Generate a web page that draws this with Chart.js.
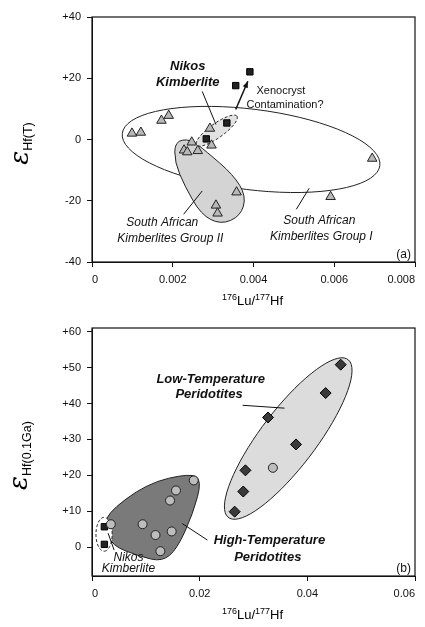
<!DOCTYPE html>
<html><head><meta charset="utf-8">
<script src="https://cdn.jsdelivr.net/npm/chart.js@4/dist/chart.umd.min.js"></script>
<style>
body{margin:0;background:#fff;width:425px;height:627px;position:relative;overflow:hidden;font-family:Arial,"Liberation Sans",sans-serif}
.cv{position:absolute;left:0;width:425px;height:310px}
.yt{position:absolute;transform:rotate(-90deg);transform-origin:center;font-size:15px;white-space:nowrap}
.yt b{font-family:"DejaVu Serif",serif;font-size:26px;font-weight:normal;font-style:italic}
.xt{position:absolute;text-align:center;font-size:13px;left:80px;width:345px}
</style></head><body>
<div class="cv" style="top:0"><canvas id="ca"></canvas></div>
<div class="cv" style="top:314px"><canvas id="cb"></canvas></div>
<div class="yt" style="left:-2px;top:128px"><b>&epsilon;</b><sub>Hf(T)</sub></div>
<div class="yt" style="left:-16px;top:440px"><b>&epsilon;</b><sub>Hf(0.1Ga)</sub></div>
<div class="xt" style="top:292px"><sup style="font-size:9px">176</sup>Lu/<sup style="font-size:9px">177</sup>Hf</div>
<div class="xt" style="top:606px"><sup style="font-size:9px">176</sup>Lu/<sup style="font-size:9px">177</sup>Hf</div>
<script>
// panel (a)
const aTriangles = [[0.00099,2],[0.00121,2.3],[0.00172,6.2],[0.0019,7.8],[0.00292,3.6],[0.00247,-0.9],[0.00228,-3.5],[0.00236,-4.1],[0.00262,-3.7],[0.00296,-1.9],[0.00358,-17.2],[0.00307,-21.5],[0.00311,-24.1],[0.00591,-18.7],[0.00694,-6.2]];
const aSquares = [[0.00283,0.2],[0.00334,5.4],[0.00356,17.6],[0.00391,22.1]];
const aXTicks = [0,0.002,0.004,0.006,0.008];
const aYTicks = [-40,-20,0,20,40];
// outlines: ellipse = [center, axis end 1, axis end 2]
const aGroupI = [[0.00394,-3.25],[0.00713,-8.5],[0.00406,9.8]];
const aNikos = [[0.00309,2.9],[0.00359,7.6],[0.00319,1.0]];
const aGroupII = [[0.00205,-0.6],[0.00244,0.2],[0.00282,-3.8],[0.00350,-11.5],[0.00382,-18.5],[0.00368,-25.0],[0.00319,-27.8],[0.00270,-24.5],[0.00230,-15.3],[0.00205,-7.5]];
// panel (b)
const bDiamonds = [[0.0462,50.8],[0.0434,42.9],[0.0327,36.1],[0.0379,28.6],[0.0285,21.4],[0.0281,15.5],[0.0265,9.9]];
const bCircles = [[0.0336,22.1],[0.0189,18.6],[0.0156,15.8],[0.0145,13],[0.0094,6.4],[0.0148,4.4],[0.0118,3.4],[0.0127,-1.1],[0.0035,6.4]];
const bSquares = [[0.0023,5.7],[0.0023,0.8]];
const bXTicks = [0,0.02,0.04,0.06];
const bYTicks = [0,10,20,30,40,50,60];
const bLowT = [[0.03645,30.25],[0.04766,52.1],[0.0403,25.0]];
const bNikos = [[0.00224,3.6],[0.00234,-1.1],[0.00374,3.9]];
const bHighT = [[0.00240,9.0],[0.01022,17.8],[0.01832,20.6],[0.02040,18.6],[0.01880,9.5],[0.01580,-0.5],[0.01303,-4.0],[0.00897,-2.6],[0.00360,0.5],[0.00300,5.0]];

const aLabels = [
  ['Nikos',0.00237,23.7,'bold italic 13px Arial'],['Kimberlite',0.00237,18.5,'bold italic 13px Arial'],
  ['Xenocryst',0.00468,15.7,'11px Arial'],['Contamination?',0.00478,11.4,'11px Arial'],
  ['South African',0.00174,-27.3,'italic 12px Arial'],['Kimberlites Group II',0.00194,-32.5,'italic 12px Arial'],
  ['South African',0.00563,-26.6,'italic 12px Arial'],['Kimberlites Group I',0.00568,-31.8,'italic 12px Arial'],
  ['(a)',0.00772,-37.7,'12px Arial']];
const aLines = [[[0.00273,15.7],[0.00307,4.9]],[[0.00227,-24.4],[0.00273,-16.8]],[[0.00506,-22.8],[0.00538,-15.9]]];
const aArrows = [[[0.00356,9.8],[0.00386,19.0]]];
const bLabels = [
  ['Low-Temperature',0.02205,46.8,'bold italic 13px Arial'],['Peridotites',0.02174,42.6,'bold italic 13px Arial'],
  ['High-Temperature',0.03295,1.8,'bold italic 13px Arial'],['Peridotites',0.03265,-2.7,'bold italic 13px Arial'],
  ['Nikos',0.00678,-2.9,'italic 12px Arial'],['Kimberlite',0.00678,-6.0,'italic 12px Arial'],
  ['(b)',0.0579,-5.9,'12px Arial']];
const bLines = [[[0.02798,39.5],[0.03575,38.7]],[[0.02144,2.0],[0.01676,6.6]],[[0.00411,-0.8],[0.00299,3.9]]];

function pts(arr){ return arr.map(p => ({x:p[0], y:p[1]})); }

function makeChart(id, cfg){
  const shapes = {
    id:'shapes',
    beforeDatasetsDraw(chart){
      const c = chart.ctx, xs = chart.scales.x, ys = chart.scales.y;
      const P = p => [xs.getPixelForValue(p[0]), ys.getPixelForValue(p[1])];
      c.save();
      cfg.shapes.forEach(s => {
        c.beginPath();
        if (s.ellipse) {
          const [o,a,b] = s.ellipse.map(P);
          for (let i=0;i<=72;i++){
            const t=i/72*2*Math.PI;
            const x=o[0]+(a[0]-o[0])*Math.cos(t)+(b[0]-o[0])*Math.sin(t);
            const y=o[1]+(a[1]-o[1])*Math.cos(t)+(b[1]-o[1])*Math.sin(t);
            i?c.lineTo(x,y):c.moveTo(x,y);
          }
        } else {
          const q = s.poly.map(P), n=q.length;
          const m = i => [(q[i%n][0]+q[(i+1)%n][0])/2,(q[i%n][1]+q[(i+1)%n][1])/2];
          c.moveTo(...m(0));
          for (let i=1;i<=n;i++) c.quadraticCurveTo(q[i%n][0],q[i%n][1],...m(i));
        }
        c.closePath();
        c.fillStyle=s.fill; c.fill();
        c.setLineDash(s.dash||[]); c.lineWidth=1; c.strokeStyle='#222'; c.stroke();
      });
      c.restore();
    },
    afterDatasetsDraw(chart){
      const c = chart.ctx, xs = chart.scales.x, ys = chart.scales.y, ca = chart.chartArea;
      const P = p => [xs.getPixelForValue(p[0]), ys.getPixelForValue(p[1])];
      c.save();
      c.strokeStyle='#111'; c.lineWidth=1.2;
      c.strokeRect(ca.left, ca.top, ca.right-ca.left, ca.bottom-ca.top);
      c.lineWidth=1;
      cfg.lines.forEach(l => { const a=P(l[0]), b=P(l[1]); c.beginPath(); c.moveTo(...a); c.lineTo(...b); c.stroke(); });
      (cfg.arrows||[]).forEach(l => {
        const a=P(l[0]), b=P(l[1]); c.lineWidth=1.5; c.beginPath(); c.moveTo(...a); c.lineTo(...b); c.stroke();
        const ang=Math.atan2(b[1]-a[1],b[0]-a[0]);
        c.beginPath(); c.moveTo(...b);
        c.lineTo(b[0]-7*Math.cos(ang-0.4),b[1]-7*Math.sin(ang-0.4));
        c.lineTo(b[0]-7*Math.cos(ang+0.4),b[1]-7*Math.sin(ang+0.4));
        c.closePath(); c.fillStyle='#111'; c.fill();
      });
      c.fillStyle='#111'; c.textAlign='center'; c.textBaseline='middle';
      cfg.labels.forEach(t => { c.font=t[3]; const p=P([t[1],t[2]]); c.fillText(t[0],p[0],p[1]); });
      c.restore();
    }
  };
  return new Chart(document.getElementById(id), {
    type:'scatter',
    data:{datasets:cfg.datasets},
    options:{
      responsive:true, maintainAspectRatio:false, animation:false,
      layout:{padding:{top:cfg.padTop,right:10,left:0,bottom:0}},
      plugins:{legend:{display:false},tooltip:{enabled:false}},
      scales:{
        x:{min:cfg.xMin,max:cfg.xMax,
          afterBuildTicks:ax=>{ax.ticks=cfg.xTicks.map(v=>({value:v}));},
          afterFit:ax=>{ax.height=48;ax.paddingRight=0;ax.paddingLeft=0;},
          grid:{drawOnChartArea:false,tickLength:5,color:'#111'},border:{color:'#111'},
          ticks:{color:'#111',font:{family:'Arial',size:11},padding:6,maxRotation:0,align:'inner',callback:v=>String(v)}},
        y:{min:cfg.yMin,max:cfg.yMax,
          afterBuildTicks:ax=>{ax.ticks=cfg.yTicks.map(v=>({value:v}));},
          afterFit:ax=>{ax.width=92;ax.paddingTop=0;ax.paddingBottom=0;},
          grid:{drawOnChartArea:false,tickLength:5,color:'#111'},border:{color:'#111'},
          ticks:{color:'#111',font:{family:'Arial',size:11},padding:6,callback:v=>v>0?'+'+v:String(v)}}
      }
    },
    plugins:[shapes]
  });
}

makeChart('ca', {
  xMin:0,xMax:0.008,yMin:-40,yMax:40,xTicks:aXTicks,yTicks:aYTicks,padTop:17,
  datasets:[
    {data:pts(aTriangles),pointStyle:'triangle',pointRadius:5.5,backgroundColor:'#b8b8b8',borderColor:'#222',borderWidth:1},
    {data:pts(aSquares),pointStyle:'rect',pointRadius:4.5,backgroundColor:'#222',borderColor:'#000',borderWidth:1}
  ],
  shapes:[{ellipse:aGroupI,fill:'rgba(255,255,255,0)'},{poly:aGroupII,fill:'#d4d4d4'},{ellipse:aNikos,fill:'#e2e2e2',dash:[3,2]}],
  lines:aLines,arrows:aArrows,labels:aLabels
});
makeChart('cb', {
  xMin:0,xMax:0.06,yMin:-8,yMax:61,xTicks:bXTicks,yTicks:bYTicks,padTop:14,
  datasets:[
    {data:pts(bCircles),pointStyle:'circle',pointRadius:4.5,backgroundColor:'#bdbdbd',borderColor:'#222',borderWidth:1},
    {data:pts(bDiamonds),pointStyle:'rectRot',pointRadius:5.5,backgroundColor:'#3a3a3a',borderColor:'#000',borderWidth:1},
    {data:pts(bSquares),pointStyle:'rect',pointRadius:4.5,backgroundColor:'#222',borderColor:'#000',borderWidth:1}
  ],
  shapes:[{ellipse:bLowT,fill:'#dcdcdc'},{poly:bHighT,fill:'#7a7a7a'},{ellipse:bNikos,fill:'#fff',dash:[3,2]}],
  lines:bLines,labels:bLabels
});
</script>
</body></html>
